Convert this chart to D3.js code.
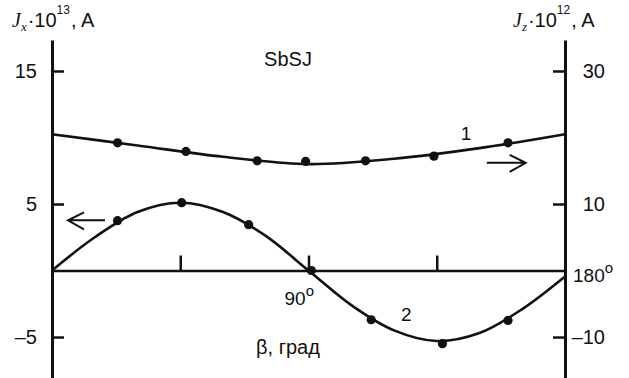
<!DOCTYPE html>
<html>
<head>
<meta charset="utf-8">
<script src="https://cdn.jsdelivr.net/npm/d3@7"></script>
<style>
  body { margin: 0; background: #fff; }
  text { font-family: "Liberation Sans", Arial, sans-serif; fill: #111; }
</style>
</head>
<body>
<svg id="chart" width="629" height="378"></svg>
<script>
// x axis: angle beta, degrees
const angleTicks = [45, 90, 135];
const leftTicks = [-5, 5, 15];
const rightTicks = [-10, 10, 30];

// curve 1 : Jz (right axis, x10^12 A)
const jzAngles = [23, 47, 72, 89, 110, 134, 160];
const jzValues = [19.2, 17.9, 16.5, 16.4, 16.5, 17.2, 19.2];
const jzFitAngles = [0, 30, 60, 90, 120, 150, 180];
const jzFitValues = [20.5, 18.8, 17.1, 16.0, 16.8, 18.4, 20.5];

// curve 2 : Jx (left axis, x10^13 A)
const jxAngles = [23, 45.5, 69, 91, 112, 137, 160];
const jxValues = [3.75, 5.1, 3.45, 0, -3.7, -5.5, -3.75];
const jxFitAngles = [0, 15, 30, 45, 60, 75, 90, 105, 120, 135, 150, 165, 180];
const jxFitValues = [0, 2.5, 4.4, 5.1, 4.4, 2.6, 0, -2.6, -4.5, -5.3, -4.7, -2.9, -0.45];

const svg = d3.select("#chart");
const ink = "#111";

const x = d3.scaleLinear().domain([0, 180]).range([52, 565]);
const yL = d3.scaleLinear().domain([-8.08, 17.33]).range([378, 40]);
const yR = d3.scaleLinear().domain([-16.16, 34.66]).range([378, 40]);

// left axis
const gL = svg.append("g")
  .attr("transform", "translate(" + x(0) + ",0)")
  .call(d3.axisLeft(yL).tickValues(leftTicks).tickSizeInner(-12).tickSizeOuter(0).tickPadding(15)
    .tickFormat(d => d < 0 ? "\u2013" + Math.abs(d) : d));

// right axis
const gR = svg.append("g")
  .attr("transform", "translate(" + x(180) + ",0)")
  .call(d3.axisRight(yR).tickValues(rightTicks).tickSizeInner(-12).tickSizeOuter(0)
    .tickFormat(d => d < 0 ? "\u2013" + Math.abs(d) : d));
gR.selectAll(".tick text").attr("x", 40).attr("text-anchor", "end");

// beta axis along zero line
const gX = svg.append("g")
  .attr("transform", "translate(0," + yL(0) + ")")
  .call(d3.axisBottom(x).tickValues(angleTicks).tickSizeInner(-15).tickSizeOuter(0).tickFormat(""));

[gL, gR].forEach(g => {
  g.select(".domain").attr("stroke", ink).attr("stroke-width", 3);
  g.selectAll(".tick line").attr("stroke", ink).attr("stroke-width", 2.5);
  g.selectAll(".tick text").attr("font-size", 20).attr("fill", ink)
    .attr("font-family", "'Liberation Sans', Arial, sans-serif");
});
gX.select(".domain").attr("stroke", ink).attr("stroke-width", 2.6);
gX.selectAll(".tick line").attr("stroke", ink).attr("stroke-width", 2.5);

// fitted curves
const lineL = d3.line().x(d => x(d[0])).y(d => yL(d[1])).curve(d3.curveCatmullRom);
const lineR = d3.line().x(d => x(d[0])).y(d => yR(d[1])).curve(d3.curveCatmullRom);

svg.append("path")
  .datum(jzFitAngles.map((a, i) => [a, jzFitValues[i]]))
  .attr("d", lineR).attr("fill", "none").attr("stroke", ink).attr("stroke-width", 2.6);

svg.append("path")
  .datum(jxFitAngles.map((a, i) => [a, jxFitValues[i]]))
  .attr("d", lineL).attr("fill", "none").attr("stroke", ink).attr("stroke-width", 2.6);

// measured points
svg.selectAll(".pz").data(jzAngles.map((a, i) => [a, jzValues[i]])).enter()
  .append("circle").attr("class", "pz")
  .attr("cx", d => x(d[0])).attr("cy", d => yR(d[1])).attr("r", 4.6).attr("fill", ink);

svg.selectAll(".px").data(jxAngles.map((a, i) => [a, jxValues[i]])).enter()
  .append("circle").attr("class", "px")
  .attr("cx", d => x(d[0])).attr("cy", d => yL(d[1])).attr("r", 4.6).attr("fill", ink);

// arrows pointing to the axis each curve uses
function arrow(x1, x2, yy) {
  const dir = x2 > x1 ? 1 : -1;
  svg.append("path")
    .attr("d", "M" + x1 + "," + yy + "H" + x2 +
      "M" + (x2 - dir * 16) + "," + (yy - 8) + "L" + x2 + "," + yy + "L" + (x2 - dir * 16) + "," + (yy + 9))
    .attr("fill", "none").attr("stroke", ink).attr("stroke-width", 2);
}
arrow(x(18.6), x(5.6), yL(3.77));
arrow(x(152.6), x(166.2), yR(16.2));

// texts
svg.append("text").attr("x", x(145.3)).attr("y", yR(19.6)).attr("text-anchor", "middle")
  .attr("font-size", 19).text("1");
svg.append("text").attr("x", x(124.3)).attr("y", yL(-3.78)).attr("text-anchor", "middle")
  .attr("font-size", 19).text("2");
svg.append("text").attr("x", 288).attr("y", 66).attr("text-anchor", "middle")
  .attr("font-size", 20).text("SbSJ");
svg.append("text").attr("x", 288).attr("y", 354).attr("text-anchor", "middle")
  .attr("font-size", 20).text("\u03b2, \u0433\u0440\u0430\u0434");

const t90 = svg.append("text").attr("x", x(90) - 24).attr("y", 305).attr("font-size", 19);
t90.append("tspan").text("90");
t90.append("tspan").attr("font-size", 15).attr("dy", -9).text("o");

const t180 = svg.append("text").attr("x", x(180) + 8).attr("y", 282).attr("font-size", 19);
t180.append("tspan").text("180");
t180.append("tspan").attr("font-size", 15).attr("dy", -9).text("o");

function unitLabel(x0, sub, pow) {
  const t = svg.append("text").attr("x", x0).attr("y", 27).attr("font-size", 20);
  t.append("tspan").attr("font-family", "'Liberation Serif', serif").attr("font-style", "italic").text("J");
  t.append("tspan").attr("font-family", "'Liberation Serif', serif").attr("font-style", "italic")
    .attr("font-size", 13).attr("dy", 4).text(sub);
  t.append("tspan").attr("dy", -4).attr("dx", 1).text("\u00b710");
  t.append("tspan").attr("font-size", 12).attr("dy", -13).text(pow);
  t.append("tspan").attr("dy", 13).attr("dx", 1).text(", A");
}
unitLabel(12, "x", "13");
unitLabel(513, "z", "12");
</script>
</body>
</html>
